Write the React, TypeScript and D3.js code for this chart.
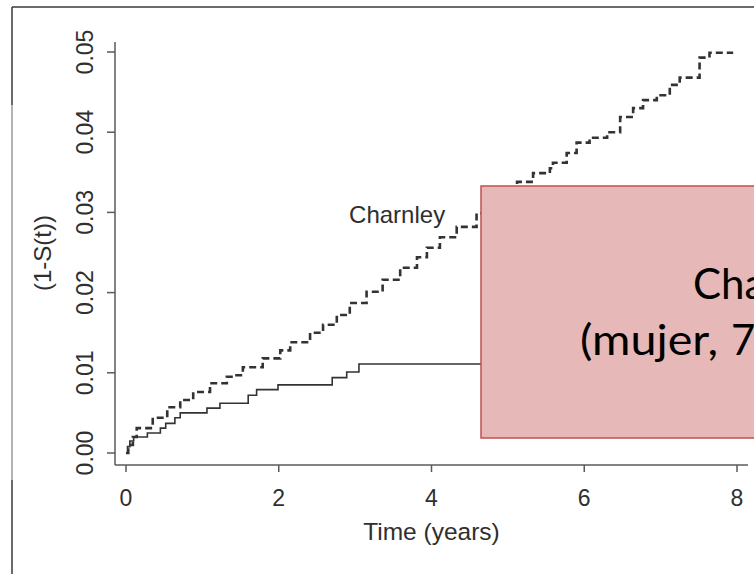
import React from 'react';
import * as d3 from 'd3';

// ---- data ----
const xTicks = [0, 2, 4, 6, 8];
const yTicks = [0, 0.01, 0.02, 0.03, 0.04, 0.05];
const yTickLabels = ['0.00', '0.01', '0.02', '0.03', '0.04', '0.05'];

// Charnley (dashed) cumulative incidence 1-S(t)
const charnleyT = [0, 0.03, 0.09, 0.14, 0.35, 0.54, 0.71, 0.88, 1.10, 1.32, 1.40, 1.53, 1.79, 2.02, 2.15, 2.41, 2.58, 2.76, 2.93, 3.15, 3.36, 3.59, 3.81, 3.94, 4.11, 4.33, 4.59, 4.85, 5.12, 5.33, 5.55, 5.59, 5.77, 5.90, 6.07, 6.30, 6.47, 6.64, 6.77, 6.95, 7.12, 7.25, 7.51, 7.64, 7.95];
const charnleyV = [0, 0.0010, 0.0020, 0.0031, 0.0044, 0.0057, 0.0066, 0.0076, 0.0087, 0.0095, 0.0097, 0.0107, 0.0118, 0.0128, 0.0138, 0.0150, 0.0160, 0.0172, 0.0187, 0.0201, 0.0216, 0.0231, 0.0244, 0.0256, 0.0269, 0.0282, 0.0299, 0.0318, 0.0338, 0.0349, 0.0355, 0.0362, 0.0374, 0.0387, 0.0393, 0.0400, 0.0419, 0.0430, 0.0440, 0.0446, 0.0459, 0.0468, 0.0493, 0.0499, 0.0499];

// Other prosthesis (solid)
const otherT = [0, 0.02, 0.05, 0.10, 0.28, 0.45, 0.52, 0.64, 0.71, 1.06, 1.23, 1.60, 1.71, 1.99, 2.70, 2.89, 3.05, 4.70];
const otherV = [0, 0.0008, 0.0015, 0.0020, 0.0025, 0.0031, 0.0037, 0.0044, 0.0050, 0.0056, 0.0062, 0.0072, 0.0079, 0.0085, 0.0094, 0.0101, 0.0111, 0.0111];

const xLabel = 'Time (years)';
const yLabel = '(1-S(t))';
const curveLabel = 'Charnley';
const boxLine1 = 'Charnley';
const boxLine2a = '(mujer,';
const boxLine2b = '70 años)';

export default function App() {
  const W = 754, H = 574;
  const x = d3.scaleLinear().domain([0, 8]).range([126, 737]);
  const y = d3.scaleLinear().domain([0, 0.05]).range([453, 52]);
  const line = d3.line<[number, number]>()
    .x(d => x(d[0]))
    .y(d => y(d[1]))
    .curve(d3.curveStepAfter);
  const charnley = charnleyT.map((t, i) => [t, charnleyV[i]] as [number, number]);
  const other = otherT.map((t, i) => [t, otherV[i]] as [number, number]);

  const axisColor = '#5a5a5a';
  const textColor = '#2f2f2f';
  const font = '"Liberation Sans", Arial, Helvetica, sans-serif';
  const boxFont = "Lato, 'Open Sans', sans-serif";
  const axX0 = 115, axY0 = 465;

  return (
    <svg width={W} height={H} style={{ position: 'absolute', left: 0, top: 0, background: '#fff' }}>
      <rect x={0} y={0} width={W} height={H} fill="#fff" />
      {/* frame */}
      <line x1={12} x2={W} y1={7} y2={7} stroke="#3a3a3a" strokeWidth={1.5} />
      <line x1={12} x2={12} y1={7} y2={105} stroke="#3a3a3a" strokeWidth={1.5} />
      <line x1={12} x2={12} y1={105} y2={480} stroke="#9a9a9a" strokeWidth={1.5} />
      <line x1={12} x2={12} y1={480} y2={H} stroke="#3a3a3a" strokeWidth={1.5} />

      {/* axes */}
      <line x1={axX0} x2={axX0} y1={42} y2={axY0} stroke={axisColor} strokeWidth={1.5} />
      <line x1={axX0} x2={748} y1={axY0} y2={axY0} stroke={axisColor} strokeWidth={1.5} />
      {xTicks.map(t => (
        <g key={'xt' + t}>
          <line x1={x(t)} x2={x(t)} y1={axY0} y2={axY0 + 7} stroke={axisColor} strokeWidth={1.5} />
          <text x={x(t)} y={506} textAnchor="middle" fontFamily={font} fontSize={23} fill={textColor}>{String(t)}</text>
        </g>
      ))}
      {yTicks.map((v, i) => (
        <g key={'yt' + i}>
          <line x1={axX0 - 8} x2={axX0} y1={y(v)} y2={y(v)} stroke={axisColor} strokeWidth={1.5} />
          <text transform={`translate(93,${y(v)}) rotate(-90)`} textAnchor="middle" fontFamily={font} fontSize={23} fill={textColor}>{yTickLabels[i]}</text>
        </g>
      ))}
      <text x={431.5} y={540} textAnchor="middle" fontFamily={font} fontSize={24.5} fill={textColor}>{xLabel}</text>
      <text transform={`translate(51,253) rotate(-90)`} textAnchor="middle" fontFamily={font} fontSize={24} fill={textColor}>{yLabel}</text>

      {/* curves */}
      <path d={line(other) || ''} fill="none" stroke="#333" strokeWidth={1.6} />
      <path d={line(charnley) || ''} fill="none" stroke="#333" strokeWidth={2.6} strokeDasharray="7,4" />
      <text x={x(3.55)} y={y(0.0287)} textAnchor="middle" fontFamily={font} fontSize={24} fill={textColor}>{curveLabel}</text>

      {/* overlay box */}
      <rect x={481} y={186} width={320} height={252} fill="#e6b8b7" stroke="#c0504d" strokeWidth={1.5} />
      <text x={693} y={299} fontFamily={boxFont} fontSize={42} fill="#000">{boxLine1}</text>
      <text x={580} y={355} fontFamily={boxFont} fontSize={42} fill="#000" textLength={138} lengthAdjust="spacingAndGlyphs">{boxLine2a}</text>
      <text x={731} y={355} fontFamily={boxFont} fontSize={42} fill="#000">{boxLine2b}</text>
    </svg>
  );
}
